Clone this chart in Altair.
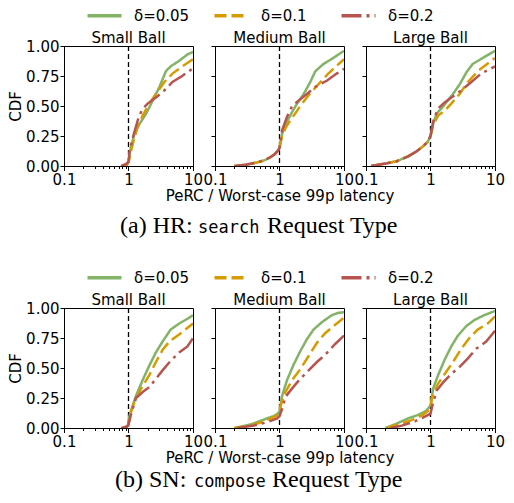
import altair as alt
import pandas as pd

deltas = ["δ=0.05", "δ=0.1", "δ=0.2"]
panel_titles = ["Small Ball", "Medium Ball", "Large Ball"]
line_colors = ["#82b366", "#d79b00", "#b85450"]
line_dashes = [[1, 0], [12, 5], [20, 5, 3, 5]]
x_ticks = [0.1, 0.2, 0.3, 0.4, 0.5, 0.6, 0.7, 0.8, 0.9, 1, 2, 3, 4, 5, 6, 7, 8, 9, 10]
y_ticks = [0, 0.25, 0.5, 0.75, 1.0]
ref_x = [1]
x_title = "PeRC / Worst-case 99p latency"

# ---- (a) HR: search ----
hr_small_005_x = [0.8, 0.95, 1.0, 1.06, 1.24, 1.48, 1.87, 2.37, 3.0, 3.8, 4.5, 6.1, 8.2, 10]
hr_small_005_y = [0.0, 0.01, 0.03, 0.13, 0.27, 0.35, 0.435, 0.545, 0.656, 0.79, 0.83, 0.876, 0.93, 0.95]
hr_small_01_x = [0.87, 1.0, 1.06, 1.17, 1.39, 1.66, 2.1, 2.66, 3.6, 4.8, 6.8, 10]
hr_small_01_y = [0.0, 0.03, 0.09, 0.19, 0.33, 0.42, 0.52, 0.60, 0.70, 0.77, 0.83, 0.89]
hr_small_02_x = [0.77, 0.92, 1.0, 1.04, 1.17, 1.39, 1.62, 1.98, 2.66, 3.6, 4.8, 6.8, 10]
hr_small_02_y = [0.0, 0.017, 0.036, 0.12, 0.24, 0.38, 0.47, 0.52, 0.57, 0.63, 0.70, 0.75, 0.815]

hr_med_005_x = [0.2, 0.3, 0.45, 0.6, 0.73, 0.85, 0.95, 1.0, 1.1, 1.31, 1.57, 1.87, 2.37, 3.0, 3.6, 4.8, 6.8, 10]
hr_med_005_y = [0.0, 0.01, 0.03, 0.05, 0.075, 0.10, 0.13, 0.15, 0.27, 0.37, 0.45, 0.52, 0.60, 0.70, 0.79, 0.85, 0.90, 0.96]
hr_med_01_x = [0.2, 0.3, 0.45, 0.6, 0.73, 0.85, 0.95, 1.0, 1.1, 1.31, 1.66, 2.1, 2.82, 4.0, 5.7, 10]
hr_med_01_y = [0.0, 0.01, 0.03, 0.05, 0.075, 0.10, 0.13, 0.15, 0.26, 0.34, 0.42, 0.50, 0.59, 0.68, 0.77, 0.89]
hr_med_02_x = [0.2, 0.3, 0.45, 0.6, 0.73, 0.85, 0.95, 1.0, 1.1, 1.31, 1.57, 1.98, 2.66, 3.6, 5.4, 7.7, 10]
hr_med_02_y = [0.0, 0.01, 0.03, 0.05, 0.075, 0.10, 0.13, 0.15, 0.30, 0.41, 0.50, 0.545, 0.60, 0.66, 0.71, 0.77, 0.81]

hr_large_005_x = [0.12, 0.2, 0.3, 0.45, 0.6, 0.75, 0.9, 1.0, 1.1, 1.24, 1.48, 1.76, 2.23, 2.83, 3.6, 4.5, 6.45, 10]
hr_large_005_y = [0.0, 0.02, 0.04, 0.08, 0.12, 0.16, 0.20, 0.25, 0.35, 0.435, 0.48, 0.53, 0.60, 0.68, 0.78, 0.85, 0.90, 0.96]
hr_large_01_x = [0.12, 0.2, 0.3, 0.45, 0.6, 0.75, 0.9, 1.0, 1.1, 1.31, 1.66, 2.1, 2.83, 3.8, 5.4, 10]
hr_large_01_y = [0.0, 0.02, 0.04, 0.08, 0.12, 0.16, 0.20, 0.25, 0.34, 0.42, 0.46, 0.52, 0.60, 0.70, 0.79, 0.90]
hr_large_02_x = [0.12, 0.2, 0.3, 0.45, 0.6, 0.75, 0.9, 1.0, 1.1, 1.31, 1.66, 2.1, 3.0, 4.3, 6.1, 10]
hr_large_02_y = [0.0, 0.02, 0.04, 0.08, 0.12, 0.16, 0.20, 0.25, 0.37, 0.48, 0.53, 0.57, 0.63, 0.70, 0.77, 0.83]

# ---- (b) SN: compose ----
sn_small_005_x = [0.82, 0.98, 1.01, 1.1, 1.31, 1.66, 2.1, 2.66, 3.37, 4.5, 6.1, 8.2, 10]
sn_small_005_y = [0.0, 0.02, 0.08, 0.15, 0.27, 0.40, 0.52, 0.63, 0.72, 0.82, 0.87, 0.91, 0.94]
sn_small_01_x = [0.87, 1.0, 1.06, 1.24, 1.57, 2.1, 2.66, 3.37, 4.3, 6.1, 10]
sn_small_01_y = [0.0, 0.02, 0.11, 0.22, 0.33, 0.44, 0.55, 0.65, 0.72, 0.78, 0.87]
sn_small_02_x = [0.77, 0.94, 1.0, 1.1, 1.31, 1.66, 2.1, 2.66, 3.37, 4.5, 6.1, 8.2, 10]
sn_small_02_y = [0.0, 0.01, 0.03, 0.12, 0.25, 0.30, 0.34, 0.41, 0.48, 0.56, 0.63, 0.68, 0.75]

sn_med_005_x = [0.2, 0.36, 0.57, 0.82, 0.94, 1.0, 1.1, 1.31, 1.66, 2.1, 2.66, 3.37, 4.5, 6.45, 8.2, 10]
sn_med_005_y = [0.0, 0.03, 0.07, 0.10, 0.12, 0.14, 0.27, 0.40, 0.53, 0.64, 0.74, 0.82, 0.88, 0.94, 0.96, 0.965]
sn_med_01_x = [0.2, 0.36, 0.57, 0.82, 1.0, 1.06, 1.24, 1.57, 2.1, 2.83, 3.8, 5.1, 7.3, 10]
sn_med_01_y = [0.0, 0.02, 0.055, 0.09, 0.12, 0.20, 0.30, 0.40, 0.49, 0.60, 0.71, 0.79, 0.86, 0.92]
sn_med_02_x = [0.22, 0.40, 0.65, 0.92, 1.0, 1.1, 1.24, 1.57, 2.1, 2.83, 3.8, 5.1, 7.3, 10]
sn_med_02_y = [0.0, 0.02, 0.05, 0.08, 0.10, 0.16, 0.26, 0.33, 0.41, 0.48, 0.55, 0.61, 0.70, 0.77]

sn_large_005_x = [0.2, 0.28, 0.45, 0.65, 0.87, 1.0, 1.1, 1.31, 1.66, 2.1, 2.66, 3.6, 4.8, 6.8, 10]
sn_large_005_y = [0.0, 0.03, 0.08, 0.11, 0.145, 0.19, 0.33, 0.44, 0.57, 0.68, 0.77, 0.85, 0.90, 0.94, 0.975]
sn_large_01_x = [0.21, 0.32, 0.51, 0.77, 1.0, 1.06, 1.31, 1.66, 2.23, 3.0, 4.0, 5.4, 7.7, 10]
sn_large_01_y = [0.0, 0.03, 0.065, 0.11, 0.16, 0.26, 0.37, 0.45, 0.55, 0.66, 0.75, 0.82, 0.87, 0.93]
sn_large_02_x = [0.24, 0.36, 0.57, 0.82, 1.0, 1.06, 1.24, 1.57, 2.1, 2.83, 3.8, 5.1, 7.3, 10]
sn_large_02_y = [0.0, 0.02, 0.055, 0.095, 0.12, 0.18, 0.31, 0.38, 0.45, 0.51, 0.58, 0.66, 0.72, 0.81]

rows_data = [
    [
        [(hr_small_005_x, hr_small_005_y), (hr_small_01_x, hr_small_01_y), (hr_small_02_x, hr_small_02_y)],
        [(hr_med_005_x, hr_med_005_y), (hr_med_01_x, hr_med_01_y), (hr_med_02_x, hr_med_02_y)],
        [(hr_large_005_x, hr_large_005_y), (hr_large_01_x, hr_large_01_y), (hr_large_02_x, hr_large_02_y)],
    ],
    [
        [(sn_small_005_x, sn_small_005_y), (sn_small_01_x, sn_small_01_y), (sn_small_02_x, sn_small_02_y)],
        [(sn_med_005_x, sn_med_005_y), (sn_med_01_x, sn_med_01_y), (sn_med_02_x, sn_med_02_y)],
        [(sn_large_005_x, sn_large_005_y), (sn_large_01_x, sn_large_01_y), (sn_large_02_x, sn_large_02_y)],
    ],
]

# caption pieces: (text, font, size, x offset from middle panel), baseline y from panel top
captions = [
    [("(a) HR:", "Liberation Serif", 24, -95), ("search", "DejaVu Sans Mono", 17, -17),
     ("Request Type", "Liberation Serif", 24, 52), 187],
    [("(b) SN:", "Liberation Serif", 24, -100), ("compose", "DejaVu Sans Mono", 17, -21),
     ("Request Type", "Liberation Serif", 24, 57), 179],
]

FONT = "DejaVu Sans"
W, H = 129, 120
title_offsets = [-7, -1, -1]


def series_df(parts):
    recs = []
    for d, (xs, ys) in zip(deltas, parts):
        for i, (a, b) in enumerate(zip(xs, ys)):
            recs.append({"x": a, "y": b, "delta": d, "i": i})
    return pd.DataFrame(recs)


major = "datum.value == 0.1 || datum.value == 1 || datum.value == 10"

legend = alt.Legend(
    title=None, orient="none", direction="horizontal", legendX=33, legendY=-38,
    columns=3, gridAlign="all",
    symbolType="M-3.4,0H3.4", symbolSize=100, symbolStrokeWidth=3.5,
    labelFontSize=15, labelFont=FONT, labelColor="black", labelOffset=22,
    columnPadding=17,
)


def panel(parts, title, idx, caption):
    df = series_df(parts)
    xaxis = alt.Axis(
        values=x_ticks,
        labelExpr="datum.value == 0.1 ? '0.1' : datum.value == 1 ? '1' : datum.value == 10 ? '10' : ''",
        tickSize={"condition": {"test": major, "value": 4.5}, "value": 2.5},
        title=x_title if idx == 1 else None,
        labelFlush=False, labelOverlap=False, grid=False,
        labelPadding=2, titlePadding=1,
    )
    if idx == 0:
        yaxis = alt.Axis(values=y_ticks, format=".2f", title="CDF", tickSize=4,
                         labelPadding=1, titlePadding=2, grid=False)
    else:
        yaxis = alt.Axis(values=y_ticks, labels=False, title=None, tickSize=4, grid=False)
    x_enc = alt.X("x:Q", scale=alt.Scale(type="log", domain=[0.1, 10]), axis=xaxis)
    lines = alt.Chart(df).mark_line(strokeWidth=2.5, clip=True).encode(
        x=x_enc,
        y=alt.Y("y:Q", scale=alt.Scale(domain=[0, 1]), axis=yaxis),
        color=alt.Color("delta:N", scale=alt.Scale(domain=deltas, range=line_colors), legend=legend),
        strokeDash=alt.StrokeDash("delta:N", scale=alt.Scale(domain=deltas, range=line_dashes), legend=legend),
        order="i:Q",
    )
    rule = alt.Chart(pd.DataFrame({"x": ref_x})).mark_rule(
        color="black", strokeDash=[5, 3], strokeWidth=1.3
    ).encode(x=x_enc)
    layers = [rule, lines]
    if idx == 1:
        base_y = caption[3]
        for text, font, size, dx in caption[:3]:
            layers.append(
                alt.Chart(pd.DataFrame({"t": [text]})).mark_text(
                    font=font, fontSize=size, align="left", baseline="alphabetic", color="black"
                ).encode(text="t:N", x=alt.value(dx), y=alt.value(base_y))
            )
    return alt.layer(*layers).properties(
        width=W, height=H,
        title=alt.TitleParams(title, fontSize=15, font=FONT, fontWeight="normal",
                              offset=title_offsets[idx], color="black", frame="group"),
    )


rows = []
for r in range(2):
    panels = [panel(rows_data[r][p], panel_titles[p], p, captions[r]) for p in range(3)]
    rows.append(alt.hconcat(*panels, spacing=22, bounds="flush"))

chart = alt.vconcat(*rows, spacing=262, bounds="flush").resolve_scale(
    color="independent", strokeDash="independent"
).properties(padding={"left": 0, "top": 0, "right": 0, "bottom": 0}).configure_view(
    stroke="black", strokeWidth=1
).configure_axis(
    domainColor="black", tickColor="black", labelColor="black", titleColor="black",
    labelFont=FONT, titleFont=FONT, labelFontSize=15, titleFontSize=15,
    titleFontWeight="normal", domainWidth=1, tickWidth=1,
)

chart.save("out.html", embed_options={"renderer": "svg", "actions": False})
